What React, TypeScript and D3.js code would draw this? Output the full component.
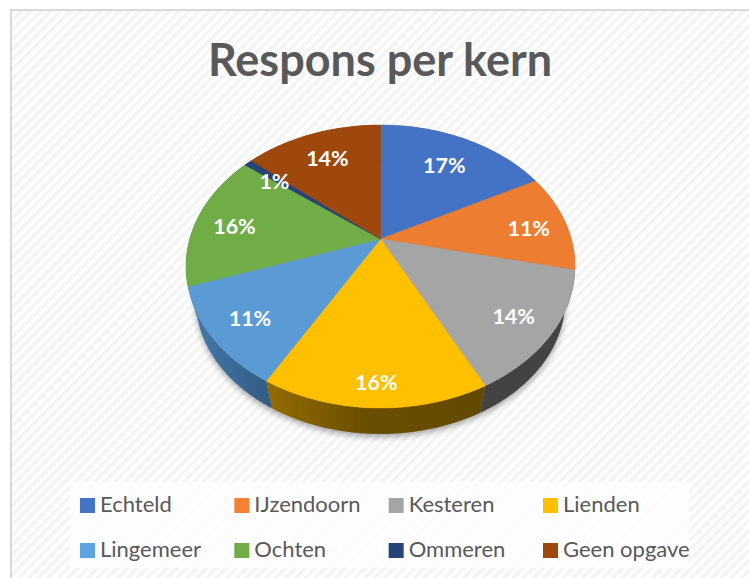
import React from "react";
import * as d3 from "d3";

const kernen = ["Echteld", "IJzendoorn", "Kesteren", "Lienden", "Lingemeer", "Ochten", "Ommeren", "Geen opgave"];
const aandeel = [17.3, 11.2, 14.0, 15.8, 11.4, 15.7, 0.8, 13.8];
const kleuren = ["#4472c4", "#ed7d31", "#a5a5a5", "#ffc000", "#5b9bd5", "#70ad47", "#264478", "#9e480e"];
const legendaKleuren = ["#4472c4", "#f58233", "#a5a5a5", "#ffc000", "#5ea3e0", "#70ad47", "#264478", "#9e480e"];
const wandKleuren = ["#2a4578", "#8f4b1d", "#434343", "url(#wandLienden)", "url(#wandLingemeer)", "#44692b", "#172948", "#602c08"];

// label nudge per slice, Excel's best-fit placement is not radial
const labelDx = [-2, 9, 9, 0, -9, -8, -4, 0];
const labelDy = [4, 3, 9, 24, 8, 3, 1, 1];

const width = 749;
const height = 578;
const cx = 380.5;

// the tilted pie: unit circle through a perspective projection, centre ends up above the ellipse centre
const project = (angle: number, r = 1): [number, number] => {
  const u = Math.sin(angle) * r;
  const v = -Math.cos(angle) * r;
  const w = 1 - 0.1943 * v;
  return [cx + (190.8 * u) / w, (89.7 * v + 239) / w];
};

// lower rim of the pie, slightly smaller and shifted down
const projectBottom = (angle: number): [number, number] => {
  const [x, y] = project(angle);
  return [cx + (x - cx) * 0.95, 299.6 + (y - 266.5) * 0.95];
};

const steps = (a0: number, a1: number) => {
  const n = Math.max(2, Math.ceil((a1 - a0) * 40));
  return d3.range(n + 1).map(i => a0 + ((a1 - a0) * i) / n);
};

const line = d3.line();

const App = () => {
  const pie = d3.pie<number>().sort(null).value(d => d)(aandeel);
  const xLegend = d3.scalePoint<number>().domain([0, 1, 2, 3]).range([80, 543]);
  const yLegend = d3.scalePoint<number>().domain([0, 1]).range([505.5, 550.5]);
  const rim = d3.range(121).map(i => projectBottom((i / 120) * 2 * Math.PI));

  return (
    <svg width={width} height={height} style={{ position: "absolute", left: 0, top: 0 }}>
      <defs>
        <pattern id="hatch" width="7" height="7" patternUnits="userSpaceOnUse" patternTransform="rotate(45)">
          <rect width="7" height="7" fill="#ffffff" />
          <rect width="3.5" height="7" fill="#f4f4f4" />
        </pattern>
        <linearGradient id="wandLienden" gradientUnits="userSpaceOnUse" x1="273" y1="0" x2="480" y2="0">
          <stop offset="0" stopColor="#916a00" />
          <stop offset="0.45" stopColor="#6a4e00" />
          <stop offset="1" stopColor="#634900" />
        </linearGradient>
        <linearGradient id="wandLingemeer" gradientUnits="userSpaceOnUse" x1="195" y1="0" x2="273" y2="0">
          <stop offset="0" stopColor="#4379ab" />
          <stop offset="1" stopColor="#315a80" />
        </linearGradient>
        <filter id="schaduw" x="-10%" y="-10%" width="120%" height="120%">
          <feGaussianBlur stdDeviation="3" />
        </filter>
      </defs>

      <rect x={11} y={10} width={width} height={height} fill="url(#hatch)" stroke="#d9d9d9" strokeWidth={2} />

      <text x={380} y={76} textAnchor="middle" fontFamily="Lato" fontWeight={700} fontSize={45} fill="#595959">
        Respons per kern
      </text>

      <path d={line(rim) + "Z"} transform="translate(0 3)" fill="#000" opacity={0.35} filter="url(#schaduw)" />

      {pie.map((slice, i) => {
        const hoeken = steps(slice.startAngle, slice.endAngle);
        const wand = [...hoeken.map(a => project(a)), ...hoeken.slice().reverse().map(projectBottom)];
        return <path key={kernen[i]} d={line(wand) + "Z"} fill={wandKleuren[i]} />;
      })}

      {pie.map((slice, i) => {
        const rand = steps(slice.startAngle, slice.endAngle).map(a => project(a));
        return (
          <path key={kernen[i]} d={line([project(0, 0), ...rand]) + "Z"} fill={kleuren[i]}
            stroke={kleuren[i]} strokeWidth={0.5} />
        );
      })}

      {pie.map((slice, i) => {
        const [x, y] = project((slice.startAngle + slice.endAngle) / 2, 0.75);
        return (
          <text key={kernen[i]} x={x + labelDx[i]} y={y + labelDy[i]} dy="0.35em" textAnchor="middle"
            fontFamily="Lato" fontWeight={700} fontSize={21.5} fill="#ffffff">
            {Math.round(slice.value) + "%"}
          </text>
        );
      })}

      <rect x={70} y={482} width={619} height={86} fill="#ffffff" opacity={0.75} />
      {kernen.map((naam, i) => {
        const x = xLegend(i % 4)!;
        const y = yLegend(Math.floor(i / 4))!;
        return (
          <g key={naam}>
            <rect x={x} y={y - 7.5} width={15} height={15} fill={legendaKleuren[i]} />
            <text x={x + 20} y={y - 1} dy="0.35em" fontFamily="Lato" fontSize={22} fill="#595959">{naam}</text>
          </g>
        );
      })}
    </svg>
  );
};

export default App;
